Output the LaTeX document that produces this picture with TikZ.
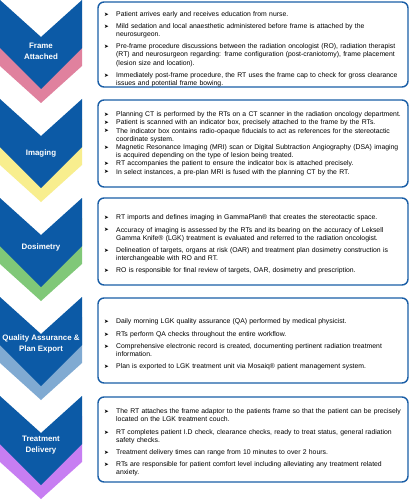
\documentclass[tikz,border=0pt]{standalone}
\usepackage{fontspec}
\setmainfont{Liberation Sans}[BoldFont={Liberation Sans Bold}]
\newfontfamily\dejavu{DejaVu Sans}
\definecolor{cblue}{HTML}{0C5AA6}
\definecolor{cpink}{HTML}{E0819E}
\definecolor{cyellow}{HTML}{F8EE8E}
\definecolor{cgreen}{HTML}{80C878}
\definecolor{clight}{HTML}{80AAD2}
\definecolor{cpurple}{HTML}{C77EF2}
\definecolor{cborder}{HTML}{1A5EA6}
\newcommand{\blt}{\makebox[12pt][l]{\raisebox{0.1pt}{\dejavu\fontsize{5.6}{5}\selectfont ➤}}}
\newcommand{\itm}[1]{\par\hangindent=12pt\hangafter=1\noindent\blt#1}
\begin{document}
\begin{tikzpicture}[x=1pt,y=-1pt,
  infobox/.style={draw=cborder,line width=1.4pt,rounded corners=6pt},
  infotext/.style={anchor=west,text width=302pt,inner sep=0pt,align=left,
    font=\fontsize{6.85}{8.2}\selectfont},
  chevlabel/.style={text=white,align=center,inner sep=0pt,
    font=\bfseries\fontsize{7.9}{11}\selectfont}]
\useasboundingbox (0,0) rectangle (410,500);
\fill[white] (0,0) rectangle (410,500);
% chevrons
\foreach \T/\c in {0/cpink,99/cyellow,198/cgreen,297/clight,396/cpurple}{
  \fill[\c] (0,\T+20) -- (41,\T+55) -- (82,\T+20) -- (82,\T+66) -- (41,\T+103) -- (0,\T+66) -- cycle;
  \fill[cblue] (0,\T) -- (41,\T+37) -- (82,\T) -- (82,\T+48) -- (41,\T+89) -- (0,\T+48) -- cycle;
}
\node[chevlabel] (l1) at (41,51) {Frame\\Attached};
\node[chevlabel] (l2) at (41,153) {Imaging};
\node[chevlabel] (l3) at (41,247) {Dosimetry};
\node[chevlabel] (l4) at (41,344) {Quality Assurance \&\\Plan Export};
\node[chevlabel] (l5) at (41,445) {Treatment\\Delivery};
% boxes
\draw[infobox] (98,2) rectangle (408,87);
\draw[infobox] (98,100) rectangle (408,187);
\draw[infobox] (98,198) rectangle (408,285);
\draw[infobox] (98,298) rectangle (408,383);
\draw[infobox] (98,397) rectangle (408,482);
\node[infotext] (t1) at (104,45.5) {\setlength{\parskip}{4pt}%
\itm{Patient arrives early and receives education from nurse.}
\itm{Mild sedation and local anaesthetic administered before frame is attached by the\newline neurosurgeon.}
\itm{Pre-frame procedure discussions between the radiation oncologist (RO), radiation therapist\newline (RT) and neurosurgeon regarding: frame configuration (post-craniotomy), frame placement\newline (lesion size and location).}
\itm{Immediately post-frame procedure, the RT uses the frame cap to check for gross clearance\newline issues and potential frame bowing.}\par};
\node[infotext] (t2) at (104,142) {\setlength{\parskip}{0pt}%
\itm{Planning CT is performed by the RTs on a CT scanner in the radiation oncology department.}
\itm{Patient is scanned with an indicator box, precisely attached to the frame by the RTs.}
\itm{The indicator box contains radio-opaque fiducials to act as references for the stereotactic\newline coordinate system.}
\itm{Magnetic Resonance Imaging (MRI) scan or Digital Subtraction Angiography (DSA) imaging\newline is acquired depending on the type of lesion being treated.}
\itm{RT accompanies the patient to ensure the indicator box is attached precisely.}
\itm{In select instances, a pre-plan MRI is fused with the planning CT by the RT.}\par};
\node[infotext] (t3) at (104,241) {\setlength{\parskip}{4pt}%
\itm{RT imports and defines imaging in GammaPlan® that creates the stereotactic space.}
\itm{Accuracy of imaging is assessed by the RTs and its bearing on the accuracy of Leksell\newline Gamma Knife® (LGK) treatment is evaluated and referred to the radiation oncologist.}
\itm{Delineation of targets, organs at risk (OAR) and treatment plan dosimetry construction is\newline interchangeable with RO and RT.}
\itm{RO is responsible for final review of targets, OAR, dosimetry and prescription.}\par};
\node[infotext] (t4) at (104,341) {\setlength{\parskip}{4pt}%
\itm{Daily morning LGK quality assurance (QA) performed by medical physicist.}
\itm{RTs perform QA checks throughout the entire workflow.}
\itm{Comprehensive electronic record is created, documenting pertinent radiation treatment\newline information.}
\itm{Plan is exported to LGK treatment unit via Mosaiq® patient management system.}\par};
\node[infotext] (t5) at (104,439) {\setlength{\parskip}{4pt}%
\itm{The RT attaches the frame adaptor to the patients frame so that the patient can be precisely\newline located on the LGK treatment couch.}
\itm{RT completes patient I.D check, clearance checks, ready to treat status, general radiation\newline safety checks.}
\itm{Treatment delivery times can range from 10 minutes to over 2 hours.}
\itm{RTs are responsible for patient comfort level including alleviating any treatment related\newline anxiety.}\par};
\end{tikzpicture}
\end{document}
